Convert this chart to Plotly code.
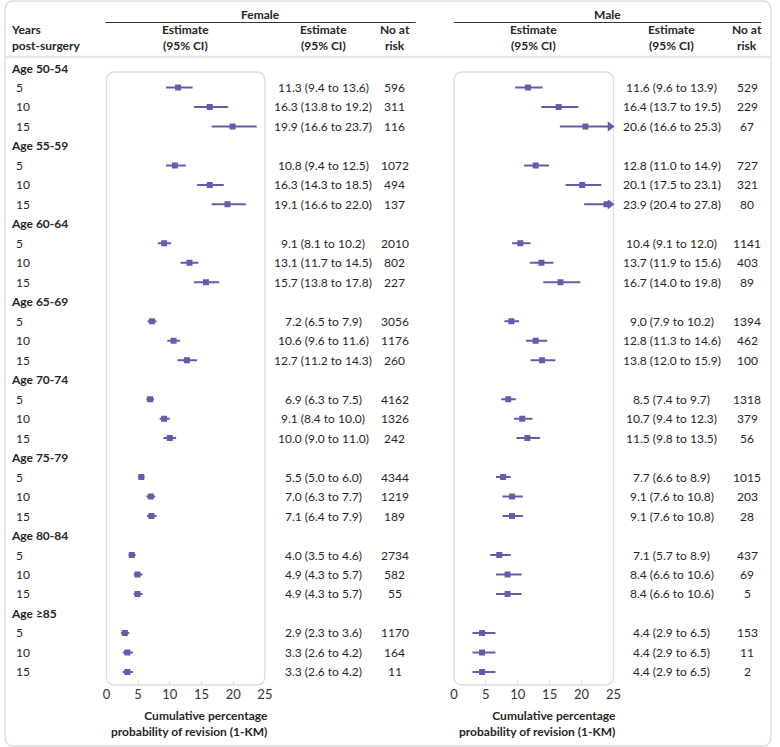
import plotly.graph_objects as go

# ---------------- data ----------------
age_groups = ["Age 50-54", "Age 55-59", "Age 60-64", "Age 65-69",
              "Age 70-74", "Age 75-79", "Age 80-84", "Age ≥85"]
years = ["5", "10", "15"]

female_est = [11.3, 16.3, 19.9, 10.8, 16.3, 19.1, 9.1, 13.1, 15.7, 7.2, 10.6, 12.7,
              6.9, 9.1, 10.0, 5.5, 7.0, 7.1, 4.0, 4.9, 4.9, 2.9, 3.3, 3.3]
female_lo = [9.4, 13.8, 16.6, 9.4, 14.3, 16.6, 8.1, 11.7, 13.8, 6.5, 9.6, 11.2,
             6.3, 8.4, 9.0, 5.0, 6.3, 6.4, 3.5, 4.3, 4.3, 2.3, 2.6, 2.6]
female_hi = [13.6, 19.2, 23.7, 12.5, 18.5, 22.0, 10.2, 14.5, 17.8, 7.9, 11.6, 14.3,
             7.5, 10.0, 11.0, 6.0, 7.7, 7.9, 4.6, 5.7, 5.7, 3.6, 4.2, 4.2]
female_n = [596, 311, 116, 1072, 494, 137, 2010, 802, 227, 3056, 1176, 260,
            4162, 1326, 242, 4344, 1219, 189, 2734, 582, 55, 1170, 164, 11]

male_est = [11.6, 16.4, 20.6, 12.8, 20.1, 23.9, 10.4, 13.7, 16.7, 9.0, 12.8, 13.8,
            8.5, 10.7, 11.5, 7.7, 9.1, 9.1, 7.1, 8.4, 8.4, 4.4, 4.4, 4.4]
male_lo = [9.6, 13.7, 16.6, 11.0, 17.5, 20.4, 9.1, 11.9, 14.0, 7.9, 11.3, 12.0,
           7.4, 9.4, 9.8, 6.6, 7.6, 7.6, 5.7, 6.6, 6.6, 2.9, 2.9, 2.9]
male_hi = [13.9, 19.5, 25.3, 14.9, 23.1, 27.8, 12.0, 15.6, 19.8, 10.2, 14.6, 15.9,
           9.7, 12.3, 13.5, 8.9, 10.8, 10.8, 8.9, 10.6, 10.6, 6.5, 6.5, 6.5]
male_n = [529, 229, 67, 727, 321, 80, 1141, 403, 89, 1394, 462, 100,
          1318, 379, 56, 1015, 203, 28, 437, 69, 5, 153, 11, 2]

x_ticks = [0, 5, 10, 15, 20, 25]
x_max = 25
axis_title = ["Cumulative percentage", "probability of revision (1-KM)"]

# ---------------- layout constants ----------------
W, H = 780, 747
FONT = "Lato"
PURPLE = "#6a58ad"
TXT = "#262626"
GREY = "#dcdde2"
ROW0, STEP = 68.0, 19.48          # pixel y of first text line and row pitch
BOX_TOP, BOX_BOT = 72, 685
F_X0, F_X1 = 104, 265
M_X0, M_X1 = 457, 619


def px(x):
    return x / W


def py(y):
    return 1 - y / H


v_top = (0 - ROW0) / STEP
v_bot = (H - ROW0) / STEP

rows_y = []
for g in range(len(age_groups)):
    for j in range(len(years)):
        rows_y.append(4 * g + 1 + j)

fig = go.Figure()


def add_side(est, lo, hi, xa):
    plus = [min(h, x_max) - e for e, h in zip(est, hi)]
    minus = [e - l for e, l in zip(est, lo)]
    fig.add_trace(go.Scatter(
        x=est, y=rows_y, mode="markers", xaxis=xa, yaxis="y",
        marker=dict(symbol="square", size=6, color=PURPLE),
        error_x=dict(type="data", symmetric=False, array=plus, arrayminus=minus,
                     thickness=2, width=0, color=PURPLE),
        showlegend=False, hoverinfo="skip"))
    ax = [x_max - 0.55 for h in hi if h > x_max]
    ay = [r for r, h in zip(rows_y, hi) if h > x_max]
    if ax:
        fig.add_trace(go.Scatter(
            x=ax, y=ay, mode="markers", xaxis=xa, yaxis="y",
            marker=dict(symbol="triangle-right", size=9, color=PURPLE),
            showlegend=False, hoverinfo="skip", cliponaxis=False))


add_side(female_est, female_lo, female_hi, "x")
add_side(male_est, male_lo, male_hi, "x2")

ann = []


def text(x, y, s, anchor="center", bold=False, yref="paper", size=12):
    ann.append(dict(x=x, y=y, xref="paper", yref=yref, text=f"<b>{s}</b>" if bold else s,
                    showarrow=False, xanchor=anchor, yanchor="middle", borderpad=0,
                    align=anchor, font=dict(family=FONT, size=size, color=TXT)))


# headers
text(px((103 + 418) / 2), py(14), "Female", bold=True)
text(px((457 + 769) / 2), py(14), "Male", bold=True)
text(px(6), py(38), "Years<br>post-surgery", anchor="left", bold=True)
for cx in [(F_X0 + F_X1) / 2, 324, (M_X0 + M_X1) / 2, 678]:
    text(px(cx), py(38), "Estimate<br>(95% CI)", bold=True)
for cx in [397, 755]:
    text(px(cx), py(38), "No at<br>risk", bold=True)

# rows
for g, lab in enumerate(age_groups):
    text(px(6), 4 * g, lab, anchor="left", bold=True, yref="y")
    for j, yr in enumerate(years):
        k = 3 * g + j
        r = rows_y[k]
        text(px(11), r, yr, anchor="left", yref="y")
        text(px(324), r, f"{female_est[k]:.1f} ({female_lo[k]:.1f} to {female_hi[k]:.1f})", yref="y")
        text(px(397), r, f"{female_n[k]}", yref="y")
        text(px(678), r, f"{male_est[k]:.1f} ({male_lo[k]:.1f} to {male_hi[k]:.1f})", yref="y")
        text(px(755), r, f"{male_n[k]}", yref="y")

# axis titles
for x1 in [269, 623]:
    text(px(x1), py(723), "<br>".join(axis_title), anchor="right", bold=True)


def rrect(x0, y0, x1, y1, r):
    X0, X1 = px(x0), px(x1)
    Y0, Y1 = py(y0), py(y1)
    rx, ry = r / W, r / H
    return (f"M {X0 + rx},{Y0} L {X1 - rx},{Y0} Q {X1},{Y0} {X1},{Y0 - ry} "
            f"L {X1},{Y1 + ry} Q {X1},{Y1} {X1 - rx},{Y1} "
            f"L {X0 + rx},{Y1} Q {X0},{Y1} {X0},{Y1 + ry} "
            f"L {X0},{Y0 - ry} Q {X0},{Y0} {X0 + rx},{Y0} Z")


shapes = [
    dict(type="path", xref="paper", yref="paper", path=rrect(1, 1, 779, 746, 9),
         line=dict(color=GREY, width=1.5), layer="below"),
    dict(type="path", xref="paper", yref="paper", path=rrect(F_X0, BOX_TOP, F_X1, BOX_BOT, 9),
         line=dict(color=GREY, width=1.3), layer="below"),
    dict(type="path", xref="paper", yref="paper", path=rrect(M_X0, BOX_TOP, M_X1, BOX_BOT, 9),
         line=dict(color=GREY, width=1.3), layer="below"),
    dict(type="line", xref="paper", yref="paper", x0=px(1), x1=px(779), y0=py(57), y1=py(57),
         line=dict(color="#e6e7eb", width=2.5)),
    dict(type="line", xref="paper", yref="paper", x0=px(103), x1=px(418), y0=py(22.5), y1=py(22.5),
         line=dict(color="#333333", width=1.2)),
    dict(type="line", xref="paper", yref="paper", x0=px(457), x1=px(769), y0=py(22.5), y1=py(22.5),
         line=dict(color="#333333", width=1.2)),
]

xaxis_common = dict(range=[0, x_max], tickvals=x_ticks, showgrid=False, zeroline=False,
                    showline=False, ticks="", fixedrange=True,
                    tickfont=dict(family=FONT, size=13, color="#333333"),
                    minor=dict(tickvals=x_ticks[1:-1], ticks="inside", ticklen=4,
                               tickcolor=GREY, tickwidth=1.3),
                    anchor="free", position=py(BOX_BOT))

fig.update_layout(
    width=W, height=H, autosize=False,
    margin=dict(l=0, r=0, t=0, b=0, pad=0),
    paper_bgcolor="white", plot_bgcolor="rgba(0,0,0,0)",
    font=dict(family=FONT, size=12, color=TXT),
    xaxis=dict(domain=[px(F_X0), px(F_X1)], **xaxis_common),
    xaxis2=dict(domain=[px(M_X0), px(M_X1)], **xaxis_common),
    yaxis=dict(domain=[0, 1], range=[v_bot, v_top], visible=False, fixedrange=True),
    annotations=ann,
    shapes=shapes,
    showlegend=False,
)

fig.write_html(
    "out.html", config={"displayModeBar": False},
    post_script=("document.body.style.margin='0';"
                 "document.body.style.overflow='hidden';"
                 "document.documentElement.style.overflow='hidden';"))
